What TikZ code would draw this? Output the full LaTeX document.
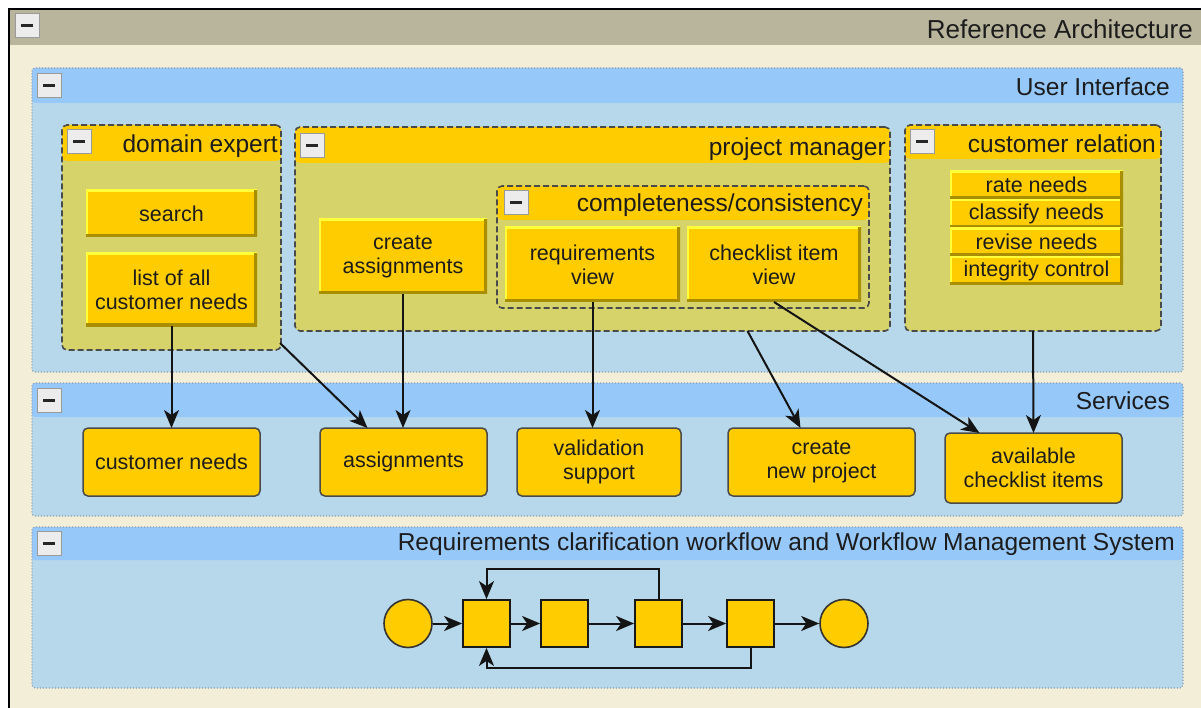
\documentclass[tikz,border=0pt]{standalone}
\usepackage{fontspec}
\setmainfont{Liberation Sans}
\usetikzlibrary{arrows.meta,calc}

\definecolor{cream}{HTML}{F3EED8}
\definecolor{tanbar}{HTML}{B9B59D}
\definecolor{hdrblue}{HTML}{96C8FA}
\definecolor{panelbody}{HTML}{B6D8EA}
\definecolor{paneledge}{HTML}{8A9BB0}
\definecolor{gold}{HTML}{FFCC00}
\definecolor{olivebody}{HTML}{D6D36B}
\definecolor{groupedge}{HTML}{4A4A4A}
\definecolor{lighttop}{HTML}{FFFF3A}
\definecolor{darkbottom}{HTML}{A88E00}
\definecolor{btnfill}{HTML}{ECECEC}
\definecolor{btnedge}{HTML}{9A9A9A}
\definecolor{inktext}{HTML}{1C1C1C}

\tikzset{
  box/.style={rectangle, inner sep=0pt, outer sep=0pt, anchor=north west},
  panel/.style={box, fill=panelbody, draw=paneledge, line width=1.1pt,
    dash pattern=on 1pt off 2pt, rounded corners=3pt,
    path picture={\fill[hdrblue] (path picture bounding box.north west)
      rectangle ([yshift=-#1]path picture bounding box.north east);}},
  group/.style={box, fill=olivebody, draw=groupedge, line width=1.6pt,
    dash pattern=on 6pt off 3pt, rounded corners=5pt,
    path picture={\fill[gold] (path picture bounding box.north west)
      rectangle ([yshift=-#1]path picture bounding box.north east);}},
  bevel/.style={box, fill=gold, text=inktext, align=center,
    font=\fontsize{21.5}{24}\selectfont,
    path picture={
      \draw[lighttop, line width=4pt]
        (path picture bounding box.south west) -- (path picture bounding box.north west)
        -- (path picture bounding box.north east);
      \draw[darkbottom, line width=6pt]
        (path picture bounding box.north east) -- (path picture bounding box.south east)
        -- (path picture bounding box.south west);}},
  service/.style={box, fill=gold, draw=groupedge, line width=1.5pt,
    rounded corners=5pt, text=inktext, align=center,
    font=\fontsize{21.5}{23.5}\selectfont},
  btn/.style={box, minimum width=24pt, minimum height=24pt, fill=btnfill,
    draw=btnedge, line width=1pt,
    path picture={\draw[black!85, line width=3pt]
      ([xshift=-6pt]path picture bounding box.center) --
      ([xshift=6pt]path picture bounding box.center);}},
  headline/.style={anchor=east, inner sep=0pt, text=inktext,
    font=\fontsize{24.5}{28}\selectfont},
  bigline/.style={headline, font=\fontsize{26}{30}\selectfont},
  wfstep/.style={rectangle, inner sep=0pt, minimum size=47pt, fill=gold,
    draw=black!90, line width=1.8pt},
  wfend/.style={circle, inner sep=0pt, minimum size=48pt, fill=gold,
    draw=black!80, line width=1.6pt},
  arr/.style={draw=black!92, line width=2pt,
    -{Stealth[length=18pt, width=15pt, inset=5pt]}},
}

\begin{document}
\begin{tikzpicture}[x=1pt, y=-1pt]
\useasboundingbox (0,0) rectangle (1201,708);

% outer frame of the whole architecture
\fill[white] (0,0) rectangle (1201,708);
\fill[cream] (9,9) rectangle (1210,720);
\fill[tanbar] (10,10) rectangle (1210,45);
\draw[black, line width=2pt] (1210,9) -- (9,9) -- (9,720);
\node[btn] (bref) at (15,14) {};
\node[bigline] (tref) at (1193,29) {Reference Architecture};

% layer panels
\node[panel=35pt, minimum width=1151pt, minimum height=304pt] (ui) at (32,68) {};
\node[btn] (bui) at (37,74) {};
\node[headline] (tui) at (1170,87) {User Interface};

\node[panel=34pt, minimum width=1151pt, minimum height=133pt] (svc) at (32,383) {};
\node[btn] (bsvc) at (37,388) {};
\node[headline] (tsvc) at (1170,401) {Services};

\node[panel=33pt, minimum width=1151pt, minimum height=161pt] (wf) at (32,527) {};
\node[btn] (bwf) at (37,531) {};
\node[headline] (twf) at (1175,544) {Requirements clarification workflow and Workflow Management System};

% user interface groups
\node[group=36pt, minimum width=219pt, minimum height=225pt] (de) at (62,125) {};
\node[btn] (bde) at (67,130) {};
\node[headline] (tde) at (278,146) {domain expert};
\node[bevel, minimum width=171pt, minimum height=47pt] (search) at (86,190) {search};
\node[bevel, minimum width=171pt, minimum height=73pt] (list) at (86,253) {list of all\\customer needs};

\node[group=36pt, minimum width=595pt, minimum height=204pt] (pm) at (295,127) {};
\node[btn] (bpm) at (300,134) {};
\node[headline] (tpm) at (886,149) {project manager};
\node[bevel, minimum width=168pt, minimum height=75pt] (cass) at (319,219) {create\\assignments};

\node[group=34pt, minimum width=372pt, minimum height=122pt] (cc) at (497,186) {};
\node[btn] (bcc) at (504,191) {};
\node[headline] (tcc) at (863,205) {completeness/consistency};
\node[bevel, minimum width=175pt, minimum height=75pt] (rv) at (505,227) {requirements\\view};
\node[bevel, minimum width=174pt, minimum height=75pt] (civ) at (687,227) {checklist item\\view};

\node[group=34pt, minimum width=256pt, minimum height=206pt] (cr) at (905,125) {};
\node[btn] (bcr) at (910,130) {};
\node[headline] (tcr) at (1156,144) {customer relation};
\node[bevel, minimum width=173pt, minimum height=28.5pt] (rate) at (950,171) {rate needs};
\node[bevel, minimum width=173pt, minimum height=28.5pt] (classify) at (950,199.5) {classify needs};
\node[bevel, minimum width=173pt, minimum height=28.5pt] (revise) at (950,228) {revise needs};
\node[bevel, minimum width=173pt, minimum height=28.5pt] (integrity) at (950,256.5) {integrity control};

% services
\node[service, minimum width=177pt, minimum height=68pt] (cn) at (83,428) {customer needs};
\node[service, minimum width=167pt, minimum height=68pt] (asg) at (320,428) {assignments};
\node[service, minimum width=164pt, minimum height=68pt] (vs) at (517,428) {validation\\support};
\node[service, minimum width=187pt, minimum height=68pt] (cnp) at (728,428) {create\\new project};
\node[service, minimum width=177pt, minimum height=70pt] (aci) at (945,433) {available\\checklist items};

% dependencies between user interface and services
\draw[arr] (list.south) -- (cn.north);
\draw[arr] ([shift={(-1pt,7pt)}]de.south east) -- ([xshift=-36pt]asg.north);
\draw[arr] (cass.south) -- (cass.south |- asg.north);
\draw[arr] (rv.south) -- (rv.south |- vs.north);
\draw[arr] ([xshift=155pt]pm.south) -- ([xshift=-21pt]cnp.north);
\draw[arr] (civ.south) -- ([xshift=-54pt]aci.north);
\draw[arr] (cr.south) -- (aci.north);

% clarification workflow
\node[wfend] (start) at (408,623.5) {};
\node[wfstep] (w1) at (486.5,623.5) {};
\node[wfstep] (w2) at (564.5,623.5) {};
\node[wfstep] (w3) at (658.5,623.5) {};
\node[wfstep] (w4) at (750.5,623.5) {};
\node[wfend] (stop) at (844,623.5) {};

\draw[arr] (start) -- (w1);
\draw[arr] (w1) -- (w2);
\draw[arr] (w2) -- (w3);
\draw[arr] (w3) -- (w4);
\draw[arr] (w4) -- (stop);
\draw[arr] (w3.north) -- ++(0,-30) -| (w1.north);
\draw[arr] (w4.south) -- ++(0,20) -| (w1.south);
\end{tikzpicture}
\end{document}
